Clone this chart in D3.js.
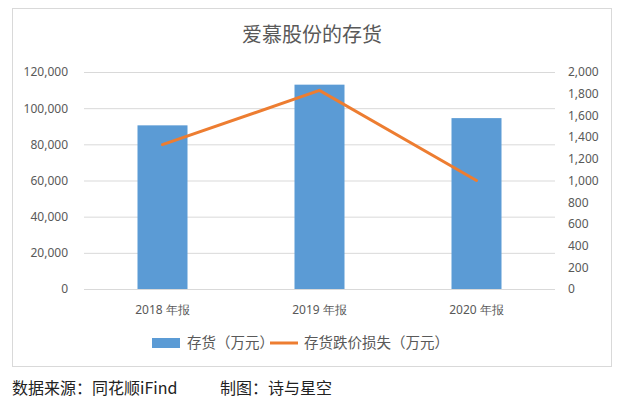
<!DOCTYPE html>
<html><head><meta charset="utf-8">
<script src="https://cdn.jsdelivr.net/npm/d3@7"></script>
<style>body{margin:0;background:#fff;font-family:"Noto Sans CJK SC","Noto Sans",sans-serif;}</style>
</head><body><svg id="c" width="620" height="407"></svg>
<script>
const categories = ["2018 年报","2019 年报","2020 年报"];
const inventory = [90500, 113000, 94500];
const writedown = [1330, 1830, 1000];
const leftTicks = [0,20000,40000,60000,80000,100000,120000];
const rightTicks = [0,200,400,600,800,1000,1200,1400,1600,1800,2000];

const svg = d3.select("#c");
svg.append("rect").attr("x",12.5).attr("y",8.5).attr("width",599).attr("height",358)
  .attr("fill","#fff").attr("stroke","#d9d9d9");
svg.append("text").attr("x",312).attr("y",42).attr("text-anchor","middle")
  .attr("font-size",20).attr("fill","#595959").text("爱慕股份的存货");

const x = d3.scaleBand().domain(categories).range([84,555]);
const yL = d3.scaleLinear().domain([0,120000]).range([289,72]);
const yR = d3.scaleLinear().domain([0,2000]).range([289,72]);
const fmt = d3.format(",");

svg.append("g").selectAll("line").data(leftTicks).join("line")
  .attr("x1",84).attr("x2",555).attr("y1",d=>yL(d)+0.5).attr("y2",d=>yL(d)+0.5)
  .attr("stroke","#d9d9d9");

const tickStyle = g=>{g.select(".domain").remove();g.selectAll(".tick line").remove();
  g.selectAll("text").attr("fill","#595959").attr("font-size",12).attr("font-family","Noto Sans, sans-serif");};
svg.append("g").attr("transform","translate(84,0)")
  .call(d3.axisLeft(yL).tickValues(leftTicks).tickFormat(fmt).tickPadding(10)).call(tickStyle);
svg.append("g").attr("transform","translate(555,0)")
  .call(d3.axisRight(yR).tickValues(rightTicks).tickFormat(fmt).tickPadding(7)).call(tickStyle);
svg.append("g").attr("transform","translate(0,289)")
  .call(d3.axisBottom(x).tickPadding(10)).call(tickStyle);

const bw = 50;
svg.append("g").selectAll("rect").data(inventory).join("rect")
  .attr("x",(d,i)=>x(categories[i])+x.bandwidth()/2-bw/2).attr("width",bw)
  .attr("y",d=>yL(d)).attr("height",d=>289-yL(d)).attr("fill","#5b9bd5");

svg.append("path").datum(writedown)
  .attr("d",d3.line().x((d,i)=>x(categories[i])+x.bandwidth()/2).y(d=>yR(d)))
  .attr("fill","none").attr("stroke","#ed7d31").attr("stroke-width",3).attr("stroke-linecap","round");

svg.append("rect").attr("x",152).attr("y",338).attr("width",28).attr("height",10).attr("fill","#5b9bd5");
svg.append("text").attr("x",187).attr("y",348).attr("font-size",14.5).attr("fill","#595959").text("存货（万元）");
svg.append("line").attr("x1",270).attr("x2",298).attr("y1",343).attr("y2",343).attr("stroke","#ed7d31").attr("stroke-width",3);
svg.append("text").attr("x",304).attr("y",348).attr("font-size",14.5).attr("fill","#595959").text("存货跌价损失（万元）");

svg.append("text").attr("x",12).attr("y",394).attr("font-size",16).attr("fill","#222").text("数据来源：同花顺iFind");
svg.append("text").attr("x",220).attr("y",394).attr("font-size",16).attr("fill","#222").text("制图：诗与星空");
</script></body></html>
